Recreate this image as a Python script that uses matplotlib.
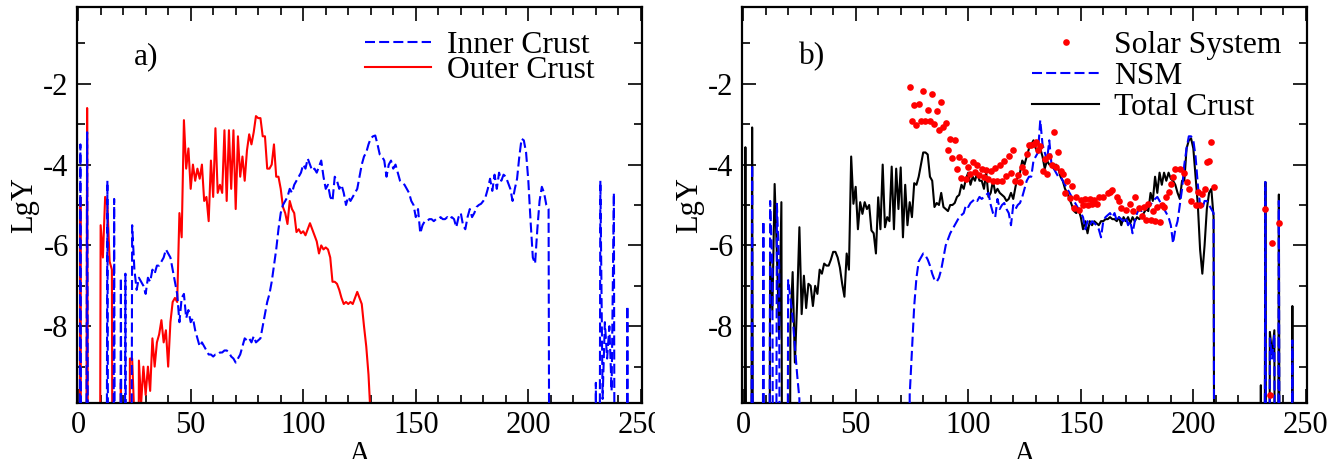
import matplotlib
matplotlib.use('Agg')
import matplotlib.pyplot as plt
import numpy as np
from matplotlib.ticker import MultipleLocator
from matplotlib.lines import Line2D
from matplotlib.transforms import Bbox

plt.rcParams['font.family'] = ['Liberation Serif', 'DejaVu Serif']
plt.rcParams['axes.unicode_minus'] = False
plt.rcParams['lines.scale_dashes'] = False

LOW = -30.0  # abundance far below the plotted range

# panel a) -- one value per mass number A = 0, 1, 2, ...
inner_crust = ([LOW, -3.5, LOW, LOW, -3.2] + [LOW] * 8 +
               [-4.4, LOW, LOW, -4.85, LOW, LOW, -6.8, LOW, -6.7, LOW, LOW, -5.5,
                -6.6, -7.1, -6.8, -6.9, -7.0, -7.2, -6.8, -6.9, -6.6, -6.7,
                -6.5, -6.5, -6.4, -6.3, -6.1, -6.2, -6.3, -6.6, -6.9, -7.2,
                -7.9, -7.3, -7.2, -7.8, -7.6, -7.9, -7.8, -8.1, -8.3, -8.5,
                -8.4, -8.5, -8.6, -8.7, -8.7, -8.75, -8.7, -8.7, -8.65, -8.65,
                -8.6, -8.6, -8.65, -8.75, -8.8, -8.9, -8.8, -8.7, -8.5, -8.3,
                -8.35, -8.3, -8.4, -8.25, -8.4, -8.35, -8.3, -8.0, -7.7, -7.4,
                -7.2, -6.9, -6.5, -6.1, -5.6, -5.2, -5.0, -4.9, -4.8, -4.6,
                -4.7, -4.5, -4.4, -4.3, -4.2, -4.0, -4.1, -3.85, -4.0, -4.15,
                -4.1, -4.2, -4.05, -3.9, -4.3, -4.6, -4.5, -4.8, -4.9, -4.3,
                -4.4, -4.6, -4.5, -4.7, -5.0, -4.8, -4.9, -4.8, -4.7, -4.6,
                -4.3, -4.0, -3.8, -3.7, -3.5, -3.35, -3.3, -3.28, -3.5, -3.75,
                -3.8, -3.9, -4.3, -4.0, -3.9, -4.1, -4.0, -4.2, -4.4, -4.45,
                -4.5, -4.6, -4.7, -4.9, -5.0, -5.3, -5.1, -5.7, -5.5, -5.4,
                -5.4, -5.35, -5.35, -5.4, -5.35, -5.35, -5.3, -5.35, -5.35, -5.3,
                -5.35, -5.3, -5.35, -5.55, -5.3, -5.2, -5.5, -5.6, -5.3, -5.1,
                -5.3, -5.2, -5.05, -5.0, -4.97, -4.9, -4.8, -4.6, -4.35, -4.65,
                -4.25, -4.6, -4.2, -4.4, -4.25, -4.3, -4.45, -4.6, -4.9, -4.6,
                -4.35, -3.8, -3.36, -3.4, -3.7, -4.4, -5.4, -6.3, -6.45, -5.6,
                -4.9, -4.55, -4.7, -5.0, -5.1] + [LOW] * 20 +
               [-9.4, LOW, -4.4, -9.8, -7.9, -8.8, -8.0, -9.6, -4.7] + [LOW] * 5 +
               [-7.5, LOW])

outer_crust = ([LOW, -4.8, LOW, LOW, -2.6] + [LOW] * 5 +
               [-5.5, -6.3, -4.8, -5.0, -6.4, -6.6, LOW, LOW, LOW, -9.4,
                LOW, LOW, LOW, -8.8, -8.8, -10.3, LOW, -8.85, -9.9, -9.0,
                -9.7, -9.0, -9.6, -8.3, -9.0, -8.4, -8.2, -7.85, -8.4, -8.1,
                -9.0, -7.9, -7.4, -7.3, -7.4, -5.2, -5.8, -2.9, -4.1, -3.6,
                -4.6, -4.0, -4.4, -4.1, -4.35, -4.0, -4.9, -4.8, -5.4, -3.9,
                -4.8, -3.1, -4.7, -4.5, -4.7, -3.15, -4.9, -3.15, -4.6, -3.15,
                -5.1, -3.3, -4.3, -3.8, -4.4, -3.65, -3.25, -3.5, -3.2, -2.8,
                -2.85, -2.85, -3.3, -3.3, -4.1, -4.1, -4.0, -3.5, -4.3, -4.3,
                -4.6, -5.05, -5.2, -5.47, -4.9, -5.1, -5.2, -5.67, -5.6, -5.7,
                -5.65, -5.75, -5.6, -5.45, -5.6, -5.75, -5.9, -6.2, -6.0, -6.1,
                -6.05, -6.1, -6.3, -6.9, -6.9, -6.95, -7.1, -7.3, -7.45, -7.4,
                -7.45, -7.4, -7.45, -7.3, -7.15, -7.3, -7.45, -8.0, -8.5, -9.2,
                -10.3, LOW])

# panel b)
total_crust = ([LOW, -3.57, LOW, LOW, -3.08] + [LOW] * 7 +
               [-6.4, -7.6, -4.48, -6.2, -8.3, -4.93, LOW, LOW,
                LOW, -8.0, -6.66, -8.9, -7.4, -5.55, -7.7, -6.75, -7.55, -6.95,
                -7.0, -7.5, -7.0, -7.2, -6.6, -6.7, -6.45, -6.5, -6.5, -6.35,
                -6.16, -6.16, -6.3, -6.55, -6.95, -7.27, -6.2, -6.6, -3.8, -4.97,
                -4.55, -5.6, -4.93, -5.22, -4.93, -5.1, -5.0, -5.63, -5.7, -6.2,
                -4.81, -5.6, -4.0, -5.55, -5.3, -5.4, -4.05, -5.6, -4.1, -5.1,
                -4.07, -5.8, -4.5, -5.5, -4.93, -5.3, -4.46, -4.5, -4.3, -4.0,
                -3.7, -3.7, -3.75, -4.3, -4.4, -5.05, -4.95, -5.0, -4.7, -5.05,
                -5.1, -5.15, -5.0, -5.0, -4.95, -4.8, -4.75, -4.5, -4.6, -4.35,
                -4.2, -4.5, -4.3, -4.4, -4.2, -4.4, -4.4, -4.6, -4.2, -4.8,
                -4.7, -4.4, -4.7, -4.6, -4.7, -4.75, -4.8, -4.9, -4.85, -4.7,
                -4.85, -4.55, -4.3, -4.2, -3.9, -4.0, -3.8, -3.6, -3.5, -3.4,
                -3.6, -3.7, -3.6, -3.8, -4.1, -3.9, -4.0, -4.0, -4.1, -4.0,
                -4.1, -4.3, -4.4, -4.6, -4.7, -4.85, -5.0, -5.15, -5.2, -5.1,
                -5.3, -5.6, -5.4, -5.7, -5.4, -5.5, -5.4, -5.45, -5.5, -5.4,
                -5.4, -5.35, -5.35, -5.3, -5.35, -5.35, -5.4, -5.3, -5.5, -5.3,
                -5.4, -5.3, -5.45, -5.3, -5.4, -5.3, -5.35, -5.3, -5.2, -5.1,
                -5.15, -4.7, -4.9, -4.3, -4.7, -4.2, -4.5, -4.2, -4.4, -4.2,
                -4.35, -4.4, -4.5, -4.7, -4.85, -4.4, -4.4, -3.6, -3.4, -3.35,
                -3.6, -4.3, -5.0, -6.1, -6.7, -6.0, -5.1, -4.7, -4.6, -5.3] +
               [LOW] * 20 +
               [-9.46, LOW, -4.43, LOW, -8.14, -8.7, -8.1, LOW, -4.74] + [LOW] * 5 +
               [-7.5, LOW])

nsm = ([LOW] * 4 + [-4.0] + [LOW] * 4 +
       [-5.4, LOW, LOW, -4.9, -6.6, LOW, -4.97, -6.5, LOW, LOW, LOW,
        -6.86, -7.3, -7.8, -8.5, -9.2, -9.8] + [LOW] * 48 +
       [-9.7, -8.6, -7.5, -6.8, -6.4, -6.3,
        -6.2, -6.25, -6.35, -6.5, -6.7, -6.85, -6.9, -6.8, -6.6, -6.3,
        -6.0, -5.85, -5.7, -5.6, -5.5, -5.4, -5.3, -5.25, -5.2, -5.0,
        -5.05, -4.95, -4.9, -4.85, -4.9, -4.8, -4.85, -4.8, -4.75, -4.7,
        -5.0, -5.2, -5.3, -4.85, -5.1, -5.0, -4.95, -5.1, -5.2, -5.5,
        -5.0, -5.1, -5.0, -4.95, -4.8, -4.6, -4.4, -4.3, -4.3, -3.9,
        -3.8, -3.7, -2.9, -3.5, -3.7, -3.9, -3.4, -4.0, -4.1, -4.2,
        -4.3, -4.3, -4.4, -4.5, -4.6, -4.7, -4.8, -4.9, -5.0, -5.1,
        -5.2, -5.3, -5.6, -5.4, -5.5, -5.4, -5.45, -5.5, -5.6, -5.8,
        -5.4, -5.3, -5.25, -5.2, -5.3, -5.2, -5.4, -5.3, -5.35, -5.4,
        -5.3, -5.5, -5.4, -5.7, -5.4, -5.2, -5.1, -5.15, -5.1, -5.1,
        -5.0, -5.0, -4.9, -4.85, -4.8, -4.9, -5.0, -5.1, -5.2, -5.3,
        -5.5, -5.95, -5.6, -5.4, -5.0, -4.6, -4.0, -3.6, -3.3, -3.3,
        -3.4, -3.8, -4.5, -5.0, -5.1, -4.9, -4.9, -5.0, -5.1, -5.2] +
       [LOW] * 22 +
       [-4.43, LOW, -8.3, -8.8, -8.2, LOW, -4.9] + [LOW] * 5 + [-8.35, LOW])

solar_A = [74, 75, 76, 77, 78, 79, 80, 81, 82, 83, 84, 85, 86, 87, 88, 89, 90,
           91, 92, 93, 94, 95, 96, 97, 98, 99, 100, 101, 102, 103, 104, 105,
           106, 107, 108, 109, 110, 111, 112, 113, 114, 115, 116, 117, 118, 119,
           120, 121, 122, 123, 124, 125, 126, 127, 128, 129, 130, 131, 132, 133,
           134, 135, 136, 137, 138, 139, 140, 141, 142, 143, 144, 145, 146, 147,
           148, 149, 150, 151, 152, 153, 154, 155, 156, 157, 158, 160, 162, 163,
           164, 166, 167, 168, 170, 172, 173, 174, 176, 177, 178, 179, 180, 181,
           182, 183, 184, 185, 186, 187, 188, 189, 190, 191, 192, 194, 196, 197,
           198, 199, 201, 202, 203, 204, 205, 206, 207, 208, 209,
           232, 234, 235, 238]
solar_lgY = [-2.07, -2.93, -2.53, -3.01, -2.5, -2.91, -2.17, -2.93, -2.64, -2.93,
             -2.25, -3.0, -2.68, -3.14, -2.44, -3.08, -2.97, -3.63, -3.37, -3.84,
             -3.39, -4.11, -3.8, -4.33, -3.9, -4.35, -4.05, -4.23, -3.94, -4.19,
             -4.02, -4.25, -4.11, -4.3, -4.13, -4.35, -4.16, -4.4, -4.08, -4.4,
             -4.02, -4.41, -3.9, -4.28, -3.78, -4.21, -3.64, -4.4, -4.25, -4.44,
             -4.07, -4.19, -3.74, -3.51, -3.51, -3.5, -3.44, -3.65, -3.53, -4.15,
             -3.86, -4.23, -3.78, -4.01, -3.2, -4.05, -3.7, -4.15, -4.23, -4.7,
             -4.4, -4.82, -4.54, -5.07, -4.8, -5.12, -4.87, -5.01, -4.85, -5.01,
             -4.85, -4.97, -4.87, -4.97, -4.79, -4.79, -4.7, -4.68, -4.62, -4.79,
             -4.89, -5.07, -5.12, -4.97, -5.14, -4.8, -5.08, -5.26, -5.05, -5.38,
             -4.97, -5.38, -5.14, -5.4, -5.05, -5.42, -5.01, -5.06, -4.8, -4.68,
             -4.48, -4.31, -4.11, -4.1, -4.21, -4.44, -4.6, -4.9, -5.01, -4.67,
             -5.01, -4.74, -4.6, -3.93, -3.9, -3.43, -4.56,
             -5.1, -9.7, -5.95, -5.45]

TICK_FS = 22
LEG_FS = 22.7
LW = 1.5
DASH = (0, (7.2, 3.0))


def style_axes(ax, tag):
    ax.set_xlim(-0.5, 250.5)
    ax.set_ylim(-9.9, -0.1)
    ax.xaxis.set_major_locator(MultipleLocator(50))
    ax.xaxis.set_minor_locator(MultipleLocator(10))
    ax.yaxis.set_major_locator(MultipleLocator(2))
    ax.yaxis.set_minor_locator(MultipleLocator(1))
    ax.tick_params(which='both', direction='in', top=True, right=True,
                   labelsize=TICK_FS, width=1.2, pad=6)
    ax.tick_params(which='major', length=10)
    ax.tick_params(which='minor', length=6)
    for sp in ax.spines.values():
        sp.set_linewidth(1.6)
    ax.set_xlabel('A', fontsize=22)
    ax.set_ylabel('LgY', fontsize=22)
    ax.xaxis.set_label_coords(0.5, -0.095)
    ax.xaxis.label.set_va('top')
    ax.yaxis.set_label_coords(-0.092, 0.5)
    ax.yaxis.label.set_va('center')
    ax.text(0.10, 0.874, tag, transform=ax.transAxes, fontsize=LEG_FS,
            ha='left', va='center')


fig = plt.figure(figsize=(13.42, 4.59), dpi=100)
W, H = 1342.0, 459.0
ax_a = fig.add_axes([77 / W, 1 - 403 / H, 565 / W, 396 / H])
ax_b = fig.add_axes([742 / W, 1 - 403 / H, 565 / W, 396 / H])

A_inner = np.arange(len(inner_crust))
A_outer = np.arange(len(outer_crust))
A_total = np.arange(len(total_crust))
A_nsm = np.arange(len(nsm))

# a)
ax_a.plot(A_outer, outer_crust, color='#ff0000', lw=LW, zorder=2)
ax_a.plot(A_inner, inner_crust, color='#0000ff', lw=LW, ls=DASH, zorder=3)
style_axes(ax_a, 'a)')
h_a = [Line2D([], [], color='#0000ff', lw=LW, ls=DASH),
       Line2D([], [], color='#ff0000', lw=LW)]
ax_a.legend(h_a, ['Inner Crust', 'Outer Crust'], loc='upper left',
            bbox_to_anchor=(0.51, 0.94), frameon=False, fontsize=LEG_FS,
            handlelength=2.1, handletextpad=0.5, labelspacing=-0.13,
            borderpad=0, borderaxespad=0)

# b)
ax_b.plot(A_total, total_crust, color='black', lw=LW, zorder=2)
ax_b.plot(A_nsm, nsm, color='#0000ff', lw=LW, ls=DASH, zorder=3)
ax_b.plot(solar_A, solar_lgY, 'o', color='#ff0000', ms=4.8, mew=0, zorder=4)
style_axes(ax_b, 'b)')
h_b = [Line2D([], [], color='#ff0000', marker='o', ls='none', ms=4.8, mew=0),
       Line2D([], [], color='#0000ff', lw=LW, ls=DASH),
       Line2D([], [], color='black', lw=LW)]
ax_b.legend(h_b, ['Solar System', 'NSM', 'Total Crust'], loc='upper left',
            bbox_to_anchor=(0.514, 0.94), frameon=False, fontsize=LEG_FS,
            handlelength=2.1, handletextpad=0.5, labelspacing=0.06,
            borderpad=0, borderaxespad=0, numpoints=1)

# the "250" of panel a is cut off in the original
clip = Bbox.from_extents(0, 0, 655, H)
for t in ax_a.xaxis.get_major_ticks():
    t.label1.set_clip_box(clip)
    t.label1.set_clip_on(True)

fig.savefig('out.png', dpi=100)
